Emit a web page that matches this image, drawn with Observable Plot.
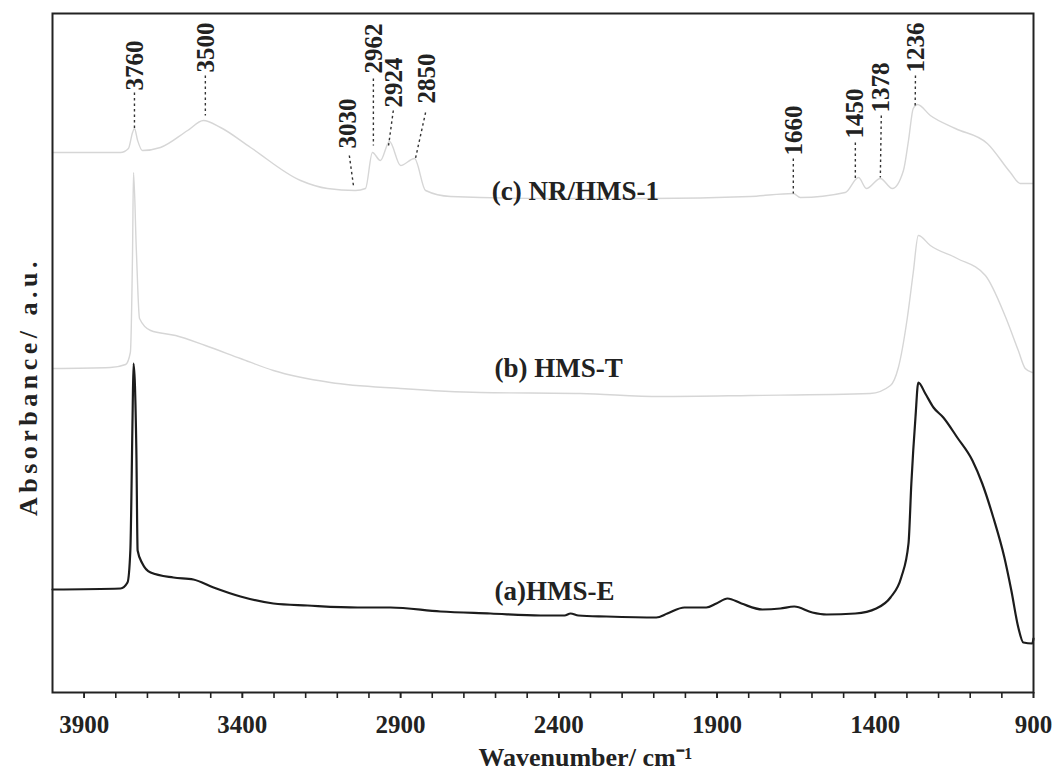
<!DOCTYPE html>
<html>
<head>
<meta charset="utf-8">
<script src="https://cdn.jsdelivr.net/npm/d3@7"></script>
<script src="https://cdn.jsdelivr.net/npm/@observablehq/plot@0.6"></script>
<style>
  html, body { margin: 0; padding: 0; background: #fff; }
  #chart svg { display: block; }
</style>
</head>
<body>
<div id="chart"></div>
<script>
// ---- Spectrum (a) HMS-E : wavenumber (cm-1) and absorbance (a.u.)
const wnA = [4000,3785,3763,3754,3747,3744,3735,3731,3716,3690,3618,3555,3491,3406,3302,3194,3036,2932,2774,2616,2458,2382,2363,2338,2250,2092,2057,2003,1934,1902,1867,1823,1757,1700,1656,1599,1554,1463,1397,1352,1318,1295,1286,1273,1264,1242,1216,1185,1141,1093,1062,1027,992,970,948,932,904,900];
const absA = [1.03,1.04,1.10,1.42,2.75,3.29,2.42,1.42,1.29,1.20,1.15,1.13,1.05,0.96,0.89,0.87,0.85,0.85,0.81,0.79,0.77,0.77,0.79,0.77,0.76,0.75,0.79,0.85,0.85,0.89,0.94,0.89,0.83,0.84,0.86,0.80,0.78,0.79,0.84,0.95,1.15,1.49,2.09,2.75,3.10,2.99,2.85,2.75,2.55,2.32,2.09,1.75,1.35,1.02,0.65,0.50,0.49,0.54];

// ---- Spectrum (b) HMS-T (faint in the scan)
const wnB = [4000,3817,3769,3754,3747,3744,3735,3725,3690,3611,3517,3406,3302,3122,2900,2648,2332,2079,1795,1416,1352,1327,1299,1280,1264,1226,1141,1052,989,948,926,904];
const absB = [3.24,3.25,3.28,3.40,4.42,5.20,4.42,3.74,3.62,3.57,3.47,3.34,3.22,3.10,3.04,3.00,2.99,2.96,2.97,2.99,3.07,3.25,3.74,4.20,4.57,4.47,4.34,4.17,3.76,3.42,3.24,3.20];

// ---- Spectrum (c) NR/HMS-1 (faint in the scan)
const wnC = [4000,3785,3760,3747,3741,3731,3716,3659,3573,3523,3469,3374,3216,3131,3043,3011,2989,2964,2935,2900,2856,2821,2742,2427,2111,1795,1659,1637,1495,1453,1428,1384,1346,1311,1295,1280,1267,1226,1147,1046,973,942,904,900];
const absC = [5.40,5.40,5.44,5.60,5.64,5.52,5.42,5.45,5.62,5.72,5.65,5.45,5.12,5.04,5.02,5.04,5.40,5.32,5.51,5.27,5.34,5.02,4.96,4.94,4.94,4.96,4.99,4.95,5.00,5.15,5.04,5.14,5.04,5.22,5.52,5.84,5.88,5.77,5.64,5.49,5.20,5.09,5.09,5.09];

// ---- Peak annotations (labels, leader line ends, text base)
const annLabels = ["3760","3500","3030","2962","2924","2850","1660","1450","1378","1236"];
const annTopWn   = [3741,3517,3062,2986,2923,2821,1659,1463,1381,1273];
const annTopAbs  = [6.00,6.17,5.37,6.14,5.82,5.80,5.34,5.50,5.77,6.17];
const annBotWn   = [3741,3517,3049,2986,2938,2853,1659,1463,1384,1274];
const annBotAbs  = [5.64,5.77,5.07,5.47,5.47,5.34,4.99,5.12,5.15,5.85];
const annTextWn  = [3738,3514,3065,2983,2920,2818,1656,1463,1381,1270];
const annTextAbs = [6.02,6.20,5.44,6.19,5.85,5.89,5.37,5.54,5.80,6.20];

// ---- Series labels
const seriesNames = ["(c) NR/HMS-1", "(b) HMS-T", "(a)HMS-E"];
const seriesLabelWn = [2612, 2603, 2603];
const seriesLabelAbs = [5.01, 3.24, 1.01];

// ---- Axis
const xDomain = [4000, 900];
const yDomain = [0, 6.79];
const minorTicks = d3.range(3900, 899, -100);
const majorTicks = [3900, 3400, 2900, 2400, 1900, 1400, 900];
const xTitle = "Wavenumber/ cm\u207B\u00B9";
const yTitle = "Absorbance/ a.u.";

const zip = (xs, ys) => xs.map((x, i) => ({x, y: ys[i]}));
const dataA = zip(wnA, absA);
const dataB = zip(wnB, absB);
const dataC = zip(wnC, absC);
const ann = annLabels.map((t, i) => ({
  t, x1: annTopWn[i], y1: annTopAbs[i], x2: annBotWn[i], y2: annBotAbs[i],
  tx: annTextWn[i], ty: annTextAbs[i]
}));
const labels = seriesNames.map((t, i) => ({t, x: seriesLabelWn[i], y: seriesLabelAbs[i]}));

const serif = "'Liberation Serif', 'Times New Roman', Times, serif";

const chart = Plot.plot({
  width: 1054,
  height: 772,
  marginLeft: 52,
  marginRight: 21,
  marginTop: 13,
  marginBottom: 80,
  style: {fontFamily: serif, background: "#fff", color: "#222"},
  x: {domain: xDomain},
  y: {domain: yDomain},
  marks: [
    Plot.axisX({ticks: minorTicks, tickFormat: () => "", tickSize: 6, strokeWidth: 1.6, stroke: "#222"}),
    Plot.axisX({ticks: majorTicks, tickFormat: d => String(d), tickSize: 6, tickPadding: 17,
      fontSize: 25, fontWeight: "bold", fontFamily: serif, fill: "#222", strokeWidth: 1.6}),
    Plot.axisY({ticks: []}),
    Plot.line(dataC, {x: "x", y: "y", stroke: "#d6d6d6", strokeWidth: 1.4, curve: "monotone-x"}),
    Plot.line(dataB, {x: "x", y: "y", stroke: "#d6d6d6", strokeWidth: 1.4, curve: "monotone-x"}),
    Plot.line(dataA, {x: "x", y: "y", stroke: "#1c1c1c", strokeWidth: 2.2, curve: "monotone-x"}),
    Plot.link(ann, {x1: "x1", y1: "y1", x2: "x2", y2: "y2", stroke: "#333", strokeWidth: 1.4, strokeDasharray: "2.5,3"}),
    Plot.text(ann, {x: "tx", y: "ty", text: "t", rotate: -90, textAnchor: "start",
      fontSize: 25, fontWeight: "bold", fill: "#222"}),
    Plot.text(labels, {x: "x", y: "y", text: "t", textAnchor: "start",
      fontSize: 27, fontWeight: "bold", fill: "#222"}),
    Plot.text([xTitle], {x: () => 2316, y: () => -0.65, text: d => d, fontSize: 26, fontWeight: "bold", fill: "#222", clip: false}),
    Plot.text([yTitle], {x: () => 4076, y: () => 3.06, text: d => d, rotate: -90, fontSize: 26, fontWeight: "bold", fill: "#222", clip: false, className: "ytitle"}),
    Plot.frame({stroke: "#222", strokeWidth: 2})
  ]
});
// widen the letter spacing of the y-axis title, as in the scanned original
d3.select(chart).selectAll("text").filter(function () { return this.textContent === yTitle; })
  .attr("letter-spacing", "4.5px");
document.getElementById("chart").append(chart);
</script>
</body>
</html>
